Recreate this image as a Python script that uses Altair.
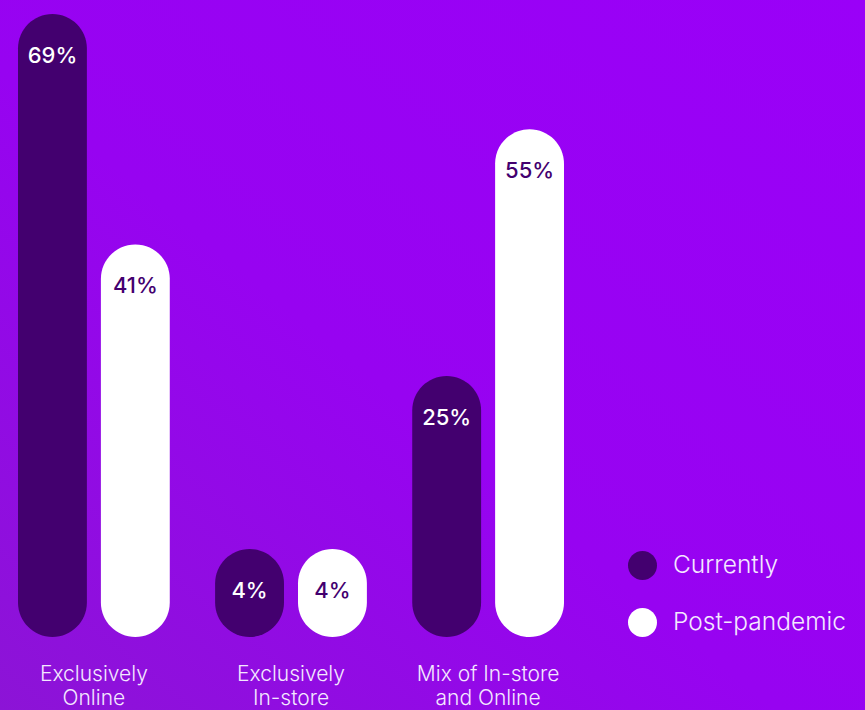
import altair as alt
import pandas as pd

categories = ["Exclusively Online", "Exclusively In-store", "Mix of In-store and Online"]
series = ["Currently", "Post-pandemic"]
currently = [69, 4, 25]
post_pandemic = [41, 4, 55]

rows = []
for c, a, b in zip(categories, currently, post_pandemic):
    rows.append({"category": c, "series": series[0], "value": a, "label": f"{a}%"})
    rows.append({"category": c, "series": series[1], "value": b, "label": f"{b}%"})
df = pd.DataFrame(rows)

DARK = "#43006f"
FONT = "Inter"
BASE = -6.7

bg = alt.Chart(pd.DataFrame({"k": [0]})).mark_rect(
    color=alt.LinearGradient(
        gradient="linear", x1=0, y1=1, x2=1, y2=0,
        stops=[alt.GradientStop(color="#8c14d6", offset=0),
               alt.GradientStop(color="#9703f1", offset=0.45),
               alt.GradientStop(color="#9a00f8", offset=1)]
    )
).encode(x=alt.value(-18), x2=alt.value(847), y=alt.value(0), y2=alt.value(710))

x_enc = alt.X("category:N", sort=categories,
              scale=alt.Scale(paddingInner=0.23, paddingOuter=0),
              axis=alt.Axis(title=None, domain=False, ticks=False, labelAngle=0, zindex=2,
                            labelFont=FONT, labelFontSize=21, labelFontWeight=300,
                            labelColor="#f4e8ff", labelLimit=300,
                            labelPadding=26, labelLineHeight=24,
                            labelExpr="datum.label == 'Mix of In-store and Online' ? ['Mix of In-store', 'and Online'] : split(datum.label, ' ')"))
xo_enc = alt.XOffset("series:N", sort=series,
                     scale=alt.Scale(paddingInner=0.169, paddingOuter=0))
y_scale = alt.Scale(domain=[BASE, 70.7], nice=False, zero=False)

bars = alt.Chart(df).mark_bar(cornerRadius=34.5).encode(
    x=x_enc,
    xOffset=xo_enc,
    y=alt.Y("value:Q", scale=y_scale, axis=None),
    y2=alt.datum(BASE),
    color=alt.Color("series:N", sort=series,
                    scale=alt.Scale(domain=series, range=[DARK, "#ffffff"]),
                    legend=alt.Legend(orient="none", legendX=610, legendY=551, title=None,
                                      symbolType="circle", symbolSize=841,
                                      symbolStrokeWidth=0, symbolOpacity=1,
                                      labelFont=FONT, labelFontSize=24.5, labelFontWeight=300,
                                      labelColor="#f4e8ff", labelOffset=16, labelLimit=400,
                                      rowPadding=28, padding=0)),
)

text = alt.Chart(df).mark_text(font=FONT, fontSize=22, fontWeight=500,
                               baseline="middle", dy=42).encode(
    x=x_enc,
    xOffset=xo_enc,
    y=alt.Y("value:Q", scale=y_scale, axis=None),
    text="label:N",
    color=alt.condition("datum.series == 'Currently'", alt.value("#ffffff"), alt.value(DARK)),
)

chart = alt.layer(bg, bars, text).properties(
    width=546, height=637, padding=0, background="#9602f0"
).configure_view(stroke=None)

chart.save("out.html", embed_options={"renderer": "svg", "actions": False})
